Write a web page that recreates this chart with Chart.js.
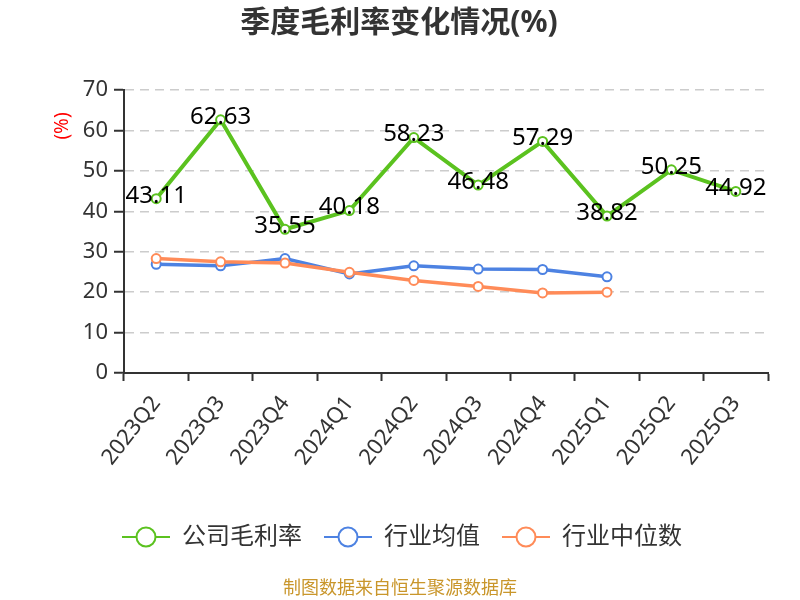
<!DOCTYPE html>
<html>
<head>
<meta charset="utf-8">
<script src="https://cdn.jsdelivr.net/npm/chart.js@4/dist/chart.umd.min.js"></script>
<style>
  body { margin: 0; background: #fff; }
  #wrap { width: 800px; height: 600px; }
</style>
</head>
<body>
<div id="wrap"><canvas id="grafico" width="800" height="600"></canvas></div>
<script>
const trimestres = ["2023Q2", "2023Q3", "2023Q4", "2024Q1", "2024Q2", "2024Q3", "2024Q4", "2025Q1", "2025Q2", "2025Q3"];
const margenEmpresa = [43.11, 62.63, 35.55, 40.18, 58.23, 46.48, 57.29, 38.82, 50.25, 44.92];
const mediaSector = [26.9, 26.5, 28.3, 24.5, 26.5, 25.7, 25.6, 23.8, null, null];
const medianaSector = [28.3, 27.5, 27.2, 24.9, 22.9, 21.4, 19.8, 20.0, null, null];
const ticksY = [0, 10, 20, 30, 40, 50, 60, 70];

const FUENTE = '"Noto Sans", "Noto Sans CJK SC", sans-serif';
const colores = { empresa: "#5bc21f", media: "#4d82e2", mediana: "#ff8b58" };

const series = [
  { nombre: "公司毛利率", datos: margenEmpresa, color: colores.empresa, orden: 0, grosor: 4 },
  { nombre: "行业均值", datos: mediaSector, color: colores.media, orden: 2, grosor: 3.5 },
  { nombre: "行业中位数", datos: medianaSector, color: colores.mediana, orden: 1, grosor: 3.5 }
];

// etiquetas de valor sobre la serie de la empresa
const etiquetasPlugin = {
  id: "etiquetas",
  afterDatasetsDraw(chart) {
    const ctx = chart.ctx;
    const meta = chart.getDatasetMeta(0);
    ctx.save();
    ctx.font = "24px " + FUENTE;
    ctx.fillStyle = "#000";
    ctx.textAlign = "center";
    ctx.textBaseline = "middle";
    meta.data.forEach((p, i) => {
      ctx.fillText(margenEmpresa[i].toFixed(2), p.x, p.y - 3);
    });
    ctx.restore();
  }
};

// titulo, leyenda, unidad y pie
const decoracionPlugin = {
  id: "decoracion",
  afterDraw(chart) {
    const ctx = chart.ctx;
    ctx.save();

    ctx.fillStyle = "#333";
    ctx.font = "bold 30px " + FUENTE;
    ctx.textAlign = "center";
    ctx.textBaseline = "middle";
    ctx.fillText("季度毛利率变化情况(%)", 399, 23);

    // unidad del eje y
    ctx.save();
    ctx.translate(63, 126);
    ctx.rotate(-Math.PI / 2);
    ctx.fillStyle = "#f00";
    ctx.font = "19px " + FUENTE;
    ctx.fillText("(%)", 0, 0);
    ctx.restore();

    // leyenda
    const posiciones = [146, 348, 526];
    const yLey = 537;
    series.forEach((s, i) => {
      const cx = posiciones[i];
      ctx.strokeStyle = s.color;
      ctx.lineWidth = 2;
      ctx.beginPath();
      ctx.moveTo(cx - 24, yLey);
      ctx.lineTo(cx + 24, yLey);
      ctx.stroke();
      ctx.beginPath();
      ctx.arc(cx, yLey, 9.5, 0, Math.PI * 2);
      ctx.fillStyle = "#fff";
      ctx.fill();
      ctx.stroke();
      ctx.fillStyle = "#333";
      ctx.font = "24px " + FUENTE;
      ctx.textAlign = "left";
      ctx.fillText(s.nombre, cx + 36, yLey);
    });

    ctx.fillStyle = "#c9962b";
    ctx.font = "18px " + FUENTE;
    ctx.textAlign = "center";
    ctx.fillText("制图数据来自恒生聚源数据库", 400, 589);

    ctx.restore();
  }
};

new Chart(document.getElementById("grafico").getContext("2d"), {
  type: "line",
  data: {
    labels: trimestres,
    datasets: series.map(s => ({
      label: s.nombre,
      data: s.datos,
      borderColor: s.color,
      backgroundColor: "#fff",
      pointBackgroundColor: "#fff",
      pointBorderColor: s.color,
      pointBorderWidth: 2,
      pointRadius: 4.5,
      borderWidth: s.grosor,
      tension: 0,
      order: s.orden,
      spanGaps: false
    }))
  },
  options: {
    responsive: false,
    animation: false,
    devicePixelRatio: 1,
    layout: { padding: { top: 90, right: 32, bottom: 0, left: 0 } },
    plugins: {
      legend: { display: false },
      title: { display: false },
      tooltip: { enabled: false }
    },
    scales: {
      x: {
        offset: true,
        grid: {
          offset: true,
          drawOnChartArea: false,
          drawTicks: true,
          tickLength: 8,
          tickColor: "#333",
          tickWidth: 2
        },
        border: { color: "#333", width: 2 },
        ticks: {
          color: "#333",
          font: { size: 22, family: FUENTE },
          minRotation: 52,
          maxRotation: 52,
          padding: 10,
          autoSkip: false
        },
        afterFit(scale) { scale.height = 227; }
      },
      y: {
        min: 0,
        max: 70,
        afterBuildTicks(scale) { scale.ticks = ticksY.map(v => ({ value: v })); },
        grid: {
          color: "#cccccc",
          lineWidth: 1.5,
          tickBorderDash: [],
          tickColor: "#333",
          tickWidth: 2,
          tickLength: 10
        },
        border: { color: "#333", width: 2, dash: [9, 6] },
        ticks: {
          color: "#333",
          font: { size: 22, family: FUENTE },
          padding: 6
        },
        afterFit(scale) { scale.width = 124; }
      }
    }
  },
  plugins: [etiquetasPlugin, decoracionPlugin]
});
</script>
</body>
</html>
